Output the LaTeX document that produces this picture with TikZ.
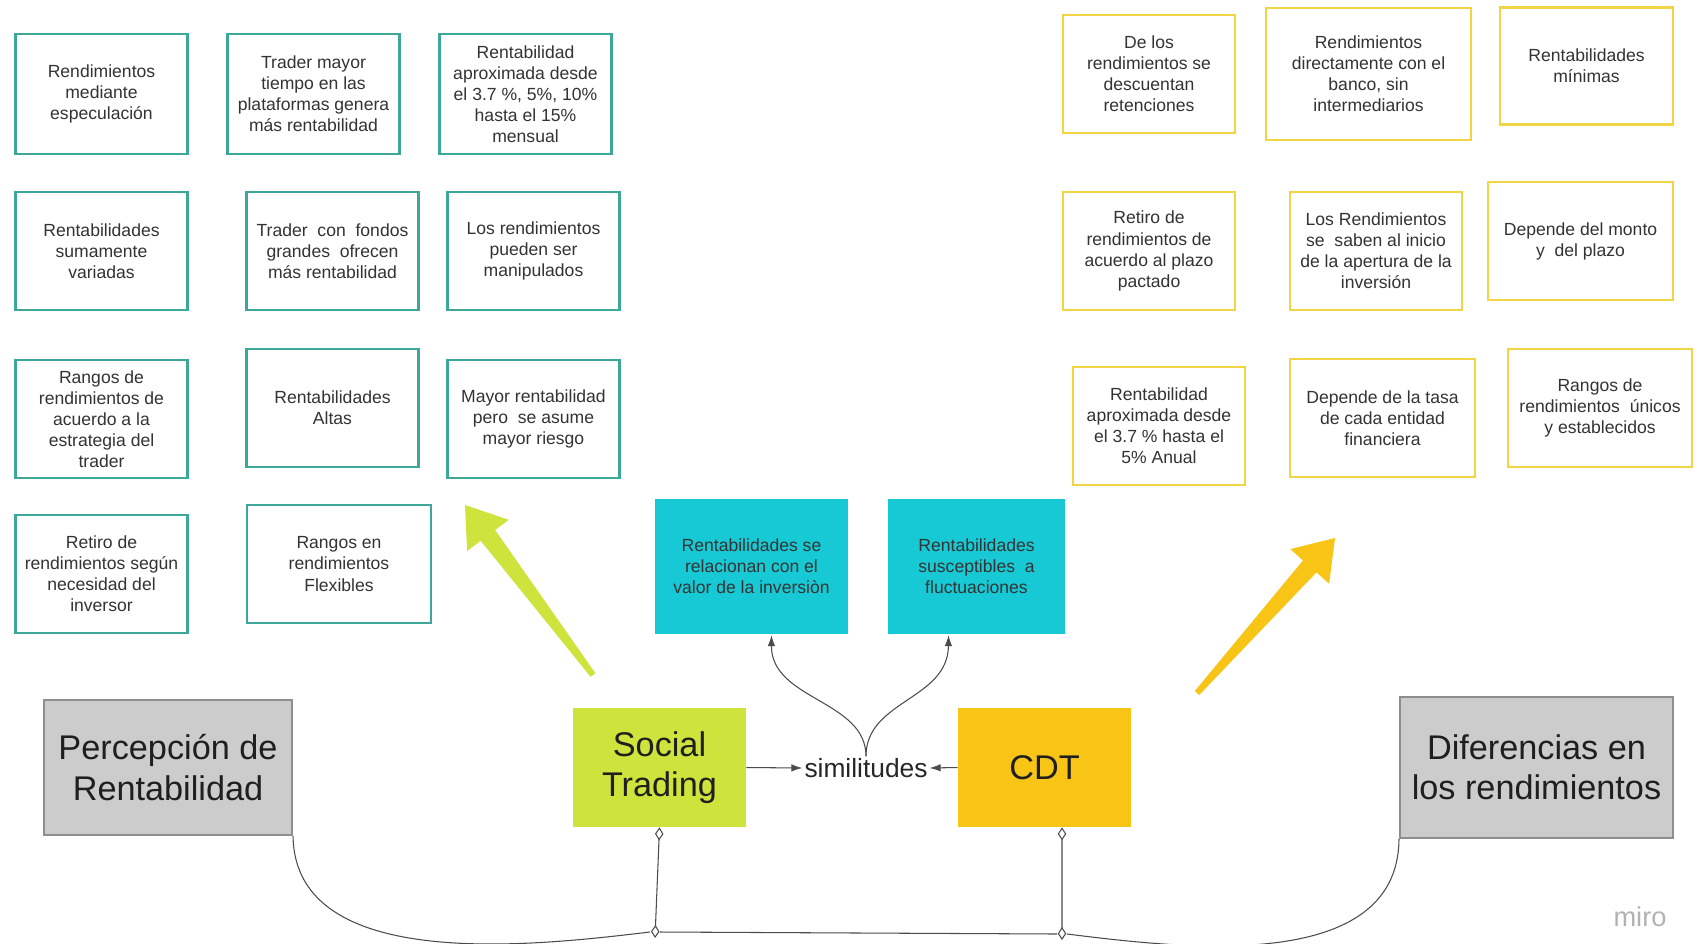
\documentclass[tikz,border=0pt]{standalone}
\usepackage{fontspec}
\setmainfont{Liberation Sans}
\usetikzlibrary{arrows.meta,calc}
\definecolor{tealline}{HTML}{3DA89A}
\definecolor{yelline}{HTML}{F2D544}
\definecolor{cyanfill}{HTML}{17C9D4}
\definecolor{limefill}{HTML}{CEE33C}
\definecolor{cdtfill}{HTML}{F8C416}
\definecolor{grayfill}{HTML}{CCCCCC}
\definecolor{grayline}{HTML}{8E8E8E}
\definecolor{txtgray}{HTML}{333333}
\tikzset{
  notebox/.style={align=center,text=txtgray,font=\fontsize{10}{12}\selectfont,
    minimum width=3.44cm,minimum height=2.36cm,inner sep=1pt,line width=1.3pt},
  tealbox/.style={notebox,draw=tealline},
  yelbox/.style={notebox,draw=yelline},
  cyanbox/.style={notebox,fill=cyanfill,minimum height=2.7cm},
  bigtext/.style={align=center,text=black!88,font=\fontsize{19.5}{23}\selectfont,inner sep=1pt},
  graybox/.style={bigtext,fill=grayfill,draw=grayline,line width=1.2pt},
  link/.style={line width=0.6pt,draw=black!70},
  dialink/.style={link,{Diamond[open,length=2.6mm,width=1.7mm]}-{Diamond[open,length=2.6mm,width=1.7mm]}},
  simlink/.style={link,-{Latex[length=2.2mm,width=1.5mm]}}
}
\begin{document}
\begin{tikzpicture}[x=0.02cm,y=-0.02cm]
\useasboundingbox[fill=white] (0,0) rectangle (1702,943);

% social trading side
\node[tealbox,minimum height=2.4cm] (st1) at (101.5,94) {Rendimientos\\mediante\\especulación};
\node[tealbox,minimum height=2.4cm] (st2) at (313.5,94) {Trader mayor\\tiempo en las\\plataformas genera\\más rentabilidad};
\node[tealbox,minimum height=2.4cm] (st3) at (525.5,94) {Rentabilidad\\aproximada desde\\el 3.7 \%, 5\%, 10\%\\hasta el 15\%\\mensual};
\node[tealbox] (st4) at (101.5,251) {Rentabilidades\\sumamente\\variadas};
\node[tealbox] (st5) at (332.5,251) {Trader~ con~ fondos\\grandes~ ofrecen\\más rentabilidad};
\node[tealbox] (st6) at (533.5,251) {Los rendimientos\\pueden ser\\manipulados};
\node[tealbox] (st7) at (101.5,419) {Rangos de\\rendimientos de\\acuerdo a la\\estrategia del\\trader};
\node[tealbox] (st8) at (332.5,408) {Rentabilidades\\Altas};
\node[tealbox] (st9) at (533.5,419) {Mayor rentabilidad\\pero~ se asume\\mayor riesgo};
\node[tealbox] (st10) at (101.5,574) {Retiro de\\rendimientos según\\necesidad del\\inversor};
\node[tealbox,minimum width=3.68cm] (st11) at (339,564) {Rangos en\\rendimientos\\Flexibles};

% cdt side
\node[yelbox] (cd1) at (1149,74) {De los\\rendimientos se\\descuentan\\retenciones};
\node[yelbox,minimum width=4.1cm,minimum height=2.64cm] (cd2) at (1368.5,74) {Rendimientos\\directamente con el\\banco, sin\\intermediarios};
\node[yelbox,minimum width=3.46cm,minimum height=2.34cm] (cd3) at (1586.5,66) {Rentabilidades\\mínimas};
\node[yelbox] (cd4) at (1149,251) {Retiro de\\rendimientos de\\acuerdo al plazo\\pactado};
\node[yelbox] (cd5) at (1376,251) {Los Rendimientos\\se~ saben al inicio\\de la apertura de la\\inversión};
\node[yelbox,minimum width=3.7cm] (cd6) at (1580.5,241) {Depende del monto\\y~ del plazo};
\node[yelbox] (cd7) at (1159,426) {Rentabilidad\\aproximada desde\\el 3.7 \% hasta el\\5\% Anual};
\node[yelbox,minimum width=3.7cm] (cd8) at (1382.5,418) {Depende de la tasa\\de cada entidad\\financiera};
\node[yelbox,minimum width=3.68cm] (cd9) at (1600,408) {Rangos de\\rendimientos~ únicos\\y establecidos};

% similitudes
\node[cyanbox,minimum width=3.86cm] (sm1) at (751.5,566.5) {Rentabilidades se\\relacionan con el\\valor de la inversiòn};
\node[cyanbox,minimum width=3.54cm] (sm2) at (976.5,566.5) {Rentabilidades\\susceptibles~ a\\fluctuaciones};

\node[graybox,minimum width=4.96cm,minimum height=2.7cm] (perc) at (168,767.5) {Percepción de\\Rentabilidad};
\node[bigtext,fill=limefill,minimum width=3.46cm,minimum height=2.38cm] (soc) at (659.5,767.5) {Social\\Trading};
\node[bigtext,fill=cdtfill,minimum width=3.46cm,minimum height=2.38cm] (cdt) at (1044.5,767.5) {CDT};
\node[graybox,minimum width=5.46cm,minimum height=2.82cm] (dif) at (1536.5,767.5) {Diferencias en\\los rendimientos};
\node[text=black!85,font=\fontsize{15}{18}\selectfont,inner sep=1pt] (sim) at (866,768) {similitudes};

\draw[simlink] (soc.east) -- (sim.west);
\draw[simlink] (cdt.west) -- (sim.east);
\draw[simlink] (sim.north) .. controls (866,700) and (771,700) .. ([xshift=0.4cm]sm1.south);
\draw[simlink] (sim.north) .. controls (866,700) and (948,700) .. ([xshift=-0.56cm]sm2.south);

% big arrows
\fill[limefill] (465,505) -- (508.7,519.8) -- (495.1,530) -- (595.4,673.2) -- (590.6,676.8)
  -- (480.7,540.8) -- (467.1,551) -- cycle;
\fill[cdtfill] (1335,538) -- (1329.1,583.7) -- (1316.4,572.4) -- (1199.2,695) -- (1194.8,691)
  -- (1303,560.4) -- (1290.3,549.1) -- cycle;

% bottom connectors
\coordinate (jl) at (655,938);
\coordinate (jr) at (1062,940);
\draw[dialink] (soc.south) -- (jl);
\draw[dialink] ([xshift=0.35cm]cdt.south) -- (jr);
\draw[link] ($(jl)+(5,-6)$) -- ($(jr)+(-5,-6)$);
\draw[link] (perc.south east) .. controls (295,975) and (540,945) .. ($(jl)+(-5,-6)$);
\draw[link] ($(jr)+(5,-6)$) .. controls (1180,948) and (1398,975) .. (dif.south west);

\node[text=black!30,font=\fontsize{15.5}{18}\selectfont] (miro) at (1640,917) {miro};
\end{tikzpicture}
\end{document}
